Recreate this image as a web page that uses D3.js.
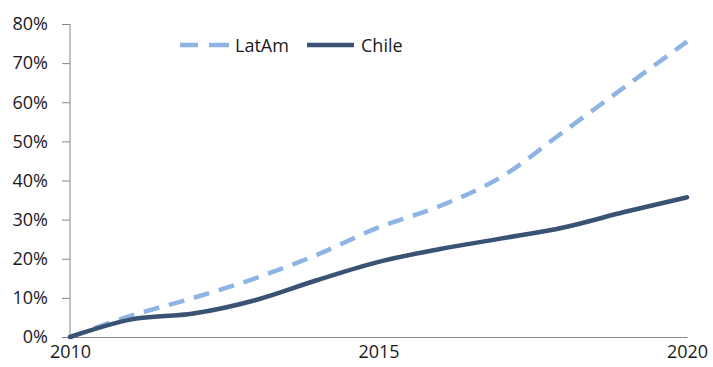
<!DOCTYPE html>
<html>
<head>
<meta charset="utf-8">
<script src="https://cdn.jsdelivr.net/npm/d3@7"></script>
<style>
  html, body { margin: 0; padding: 0; background: #fff; }
  svg { display: block; }
  text { font-family: "Open Sans", "Noto Sans", sans-serif; fill: #1a1a1a; }
</style>
</head>
<body>
<svg id="chart" width="713" height="367"></svg>
<script>
// Cumulative growth since 2010
const years = [2010, 2011, 2012, 2013, 2014, 2015, 2016, 2017, 2018, 2019, 2020];
const latam = [0, 5.5, 10, 15, 21, 28, 33.5, 41, 52.5, 64, 75.5];
const chile = [0, 4.5, 6, 9.4, 14.5, 19.2, 22.5, 25.2, 28, 32, 35.7];
const yTicks = [0, 10, 20, 30, 40, 50, 60, 70, 80];
const xTicks = [2010, 2015, 2020];
const seriesNames = ["LatAm", "Chile"];

const svg = d3.select("#chart");
const margin = { left: 70, right: 26, top: 24, bottom: 30 };
const W = 713, H = 367;

const x = d3.scaleLinear().domain([2010, 2020]).range([margin.left, W - margin.right]);
const y = d3.scaleLinear().domain([0, 80]).range([H - margin.bottom, margin.top]);

const axisColor = "#868686";

// Y axis
const yAxis = svg.append("g")
  .attr("transform", `translate(${margin.left},0)`)
  .call(d3.axisLeft(y).tickValues(yTicks).tickSize(8).tickPadding(14)
    .tickFormat(d => d + "%"));
yAxis.select(".domain").attr("stroke", axisColor).attr("d", `M0,${y(80)}V${y(0)}`);
yAxis.selectAll(".tick line").attr("stroke", axisColor);
yAxis.selectAll(".tick text").attr("font-size", 18).attr("fill", "#1a1a1a")
  .attr("font-family", '"Open Sans", sans-serif');

// X axis
const xAxis = svg.append("g")
  .attr("transform", `translate(0,${y(0)})`)
  .call(d3.axisBottom(x).tickValues(xTicks).tickSize(0).tickPadding(8)
    .tickFormat(d3.format("d")));
xAxis.select(".domain").attr("stroke", axisColor);
xAxis.selectAll(".tick text").attr("font-size", 18).attr("fill", "#1a1a1a")
  .attr("font-family", '"Open Sans", sans-serif');

// Smoothed lines
const line = d3.line()
  .x((d, i) => x(years[i]))
  .y(d => y(d))
  .curve(d3.curveMonotoneX);

const latColor = "#8db4e2";
const chileColor = "#3a5273";

svg.append("path")
  .datum(latam)
  .attr("d", line)
  .attr("fill", "none")
  .attr("stroke", latColor)
  .attr("stroke-width", 4.5)
  .attr("stroke-dasharray", "16,10");

svg.append("path")
  .datum(chile)
  .attr("d", line)
  .attr("fill", "none")
  .attr("stroke", chileColor)
  .attr("stroke-width", 4.5)
  .attr("stroke-linecap", "round");

// Legend
const legend = svg.append("g");
legend.append("line")
  .attr("x1", 180).attr("x2", 229).attr("y1", 45).attr("y2", 45)
  .attr("stroke", latColor).attr("stroke-width", 4.5)
  .attr("stroke-dasharray", "18,11,21");
legend.append("text")
  .attr("x", 235).attr("y", 51.5).attr("font-size", 18).text(seriesNames[0]);
legend.append("line")
  .attr("x1", 307).attr("x2", 354).attr("y1", 45).attr("y2", 45)
  .attr("stroke", chileColor).attr("stroke-width", 4.5);
legend.append("text")
  .attr("x", 361).attr("y", 51.5).attr("font-size", 18).text(seriesNames[1]);
</script>
</body>
</html>
